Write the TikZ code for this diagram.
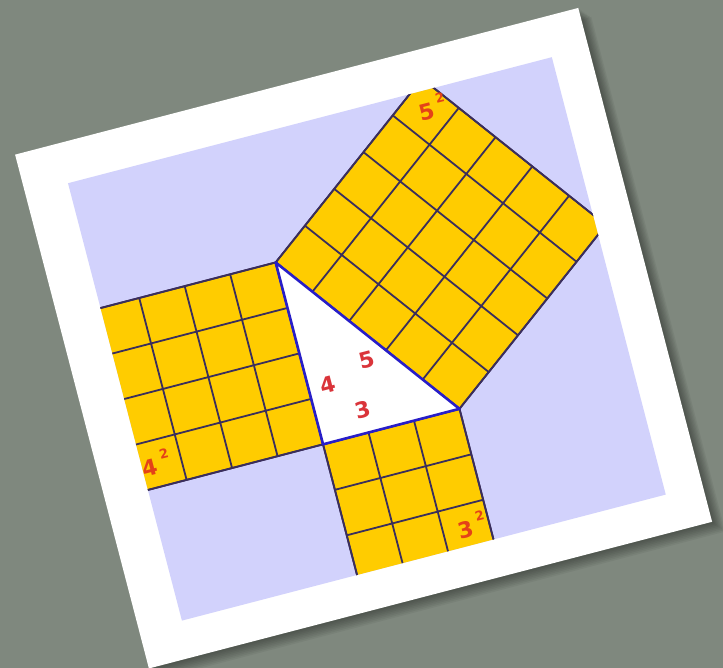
\documentclass[tikz,border=0pt]{standalone}
\usepackage{fontspec}
\setmainfont{DejaVu Sans}

\definecolor{wallgrey}{RGB}{127,136,126}
\definecolor{panelblue}{RGB}{210,210,252}
\definecolor{cellgold}{RGB}{255,204,0}
\definecolor{gridnavy}{RGB}{58,46,92}
\definecolor{edgeblue}{RGB}{40,30,200}
\definecolor{sidered}{RGB}{218,52,58}
\definecolor{areared}{RGB}{228,66,24}

\tikzset{
  cellsq/.style={fill=cellgold, draw=gridnavy, line width=1.8pt},
  cellgrid/.style={draw=gridnavy, line width=1.8pt, step=47pt},
  legline/.style={fill=white, draw=edgeblue, line width=2.6pt, line join=round},
  sidelbl/.style={text=sidered, font=\bfseries\fontsize{22}{26}\selectfont, inner sep=0pt, transform shape},
  arealbl/.style={sidelbl, text=areared},
  powlbl/.style={arealbl, font=\bfseries\fontsize{13}{15}\selectfont, anchor=south west}
}

\begin{document}
\begin{tikzpicture}[x=1pt,y=1pt]

    % Wall
    \useasboundingbox (0,0) rectangle (723,668);
    \clip (0,0) rectangle (723,668);
    \fill[wallgrey] (0,0) rectangle (723,668);

    \begin{scope}[rotate=14.6]
      % Photo frame with its shadow
      \foreach \k in {1,...,8}
        \fill[black, fill opacity=0.05] (144+0.5*\k,-38-1.6*\k) rectangle (726+1.3*\k,493-1.5*\k);
      \fill[white] (144,-38) rectangle (726,493);
      \fill[panelblue] (188,0) rectangle (688,452);
      \clip (188,0) rectangle (688,452);

      % Triangle corners
      \coordinate (A) at (369,323);
      \coordinate (B) at (369,135);
      \coordinate (C) at (510,135);

      % Squares on the sides
      \begin{scope}[shift={(B)}]
        \filldraw[cellsq] (-188,0) rectangle (0,188);
        \draw[cellgrid] (-188,0) grid (0,188);
        \filldraw[cellsq] (0,-141) rectangle (141,0);
        \draw[cellgrid] (0,-141) grid (141,0);
      \end{scope}
      \begin{scope}[shift={(A)}, rotate=-53.13]
        \filldraw[cellsq] (0,0) rectangle (235,235);
        \draw[cellgrid] (0,0) grid (235,235);
      \end{scope}

      % Triangle
      \filldraw[legline] (A) -- (B) -- (C) -- cycle;

      % Labels
      \node[sidelbl] (side-c) at (433,206) {5};
      \node[sidelbl] (side-b) at (389,191) {4};
      \node[sidelbl] (side-a) at (416,158) {3};
      \node[arealbl] (area-c) at (553,431) {5};
      \node[arealbl] (area-b) at (196,156) {4};
      \node[arealbl] (area-a) at (486,16) {3};
      \node[powlbl] (pow-c) at ([shift={(4,-3)}]area-c.north east) {2};
      \node[powlbl] (pow-b) at ([shift={(4,-3)}]area-b.north east) {2};
      \node[powlbl] (pow-a) at ([shift={(4,-3)}]area-a.north east) {2};
    \end{scope}

\end{tikzpicture}
\end{document}
